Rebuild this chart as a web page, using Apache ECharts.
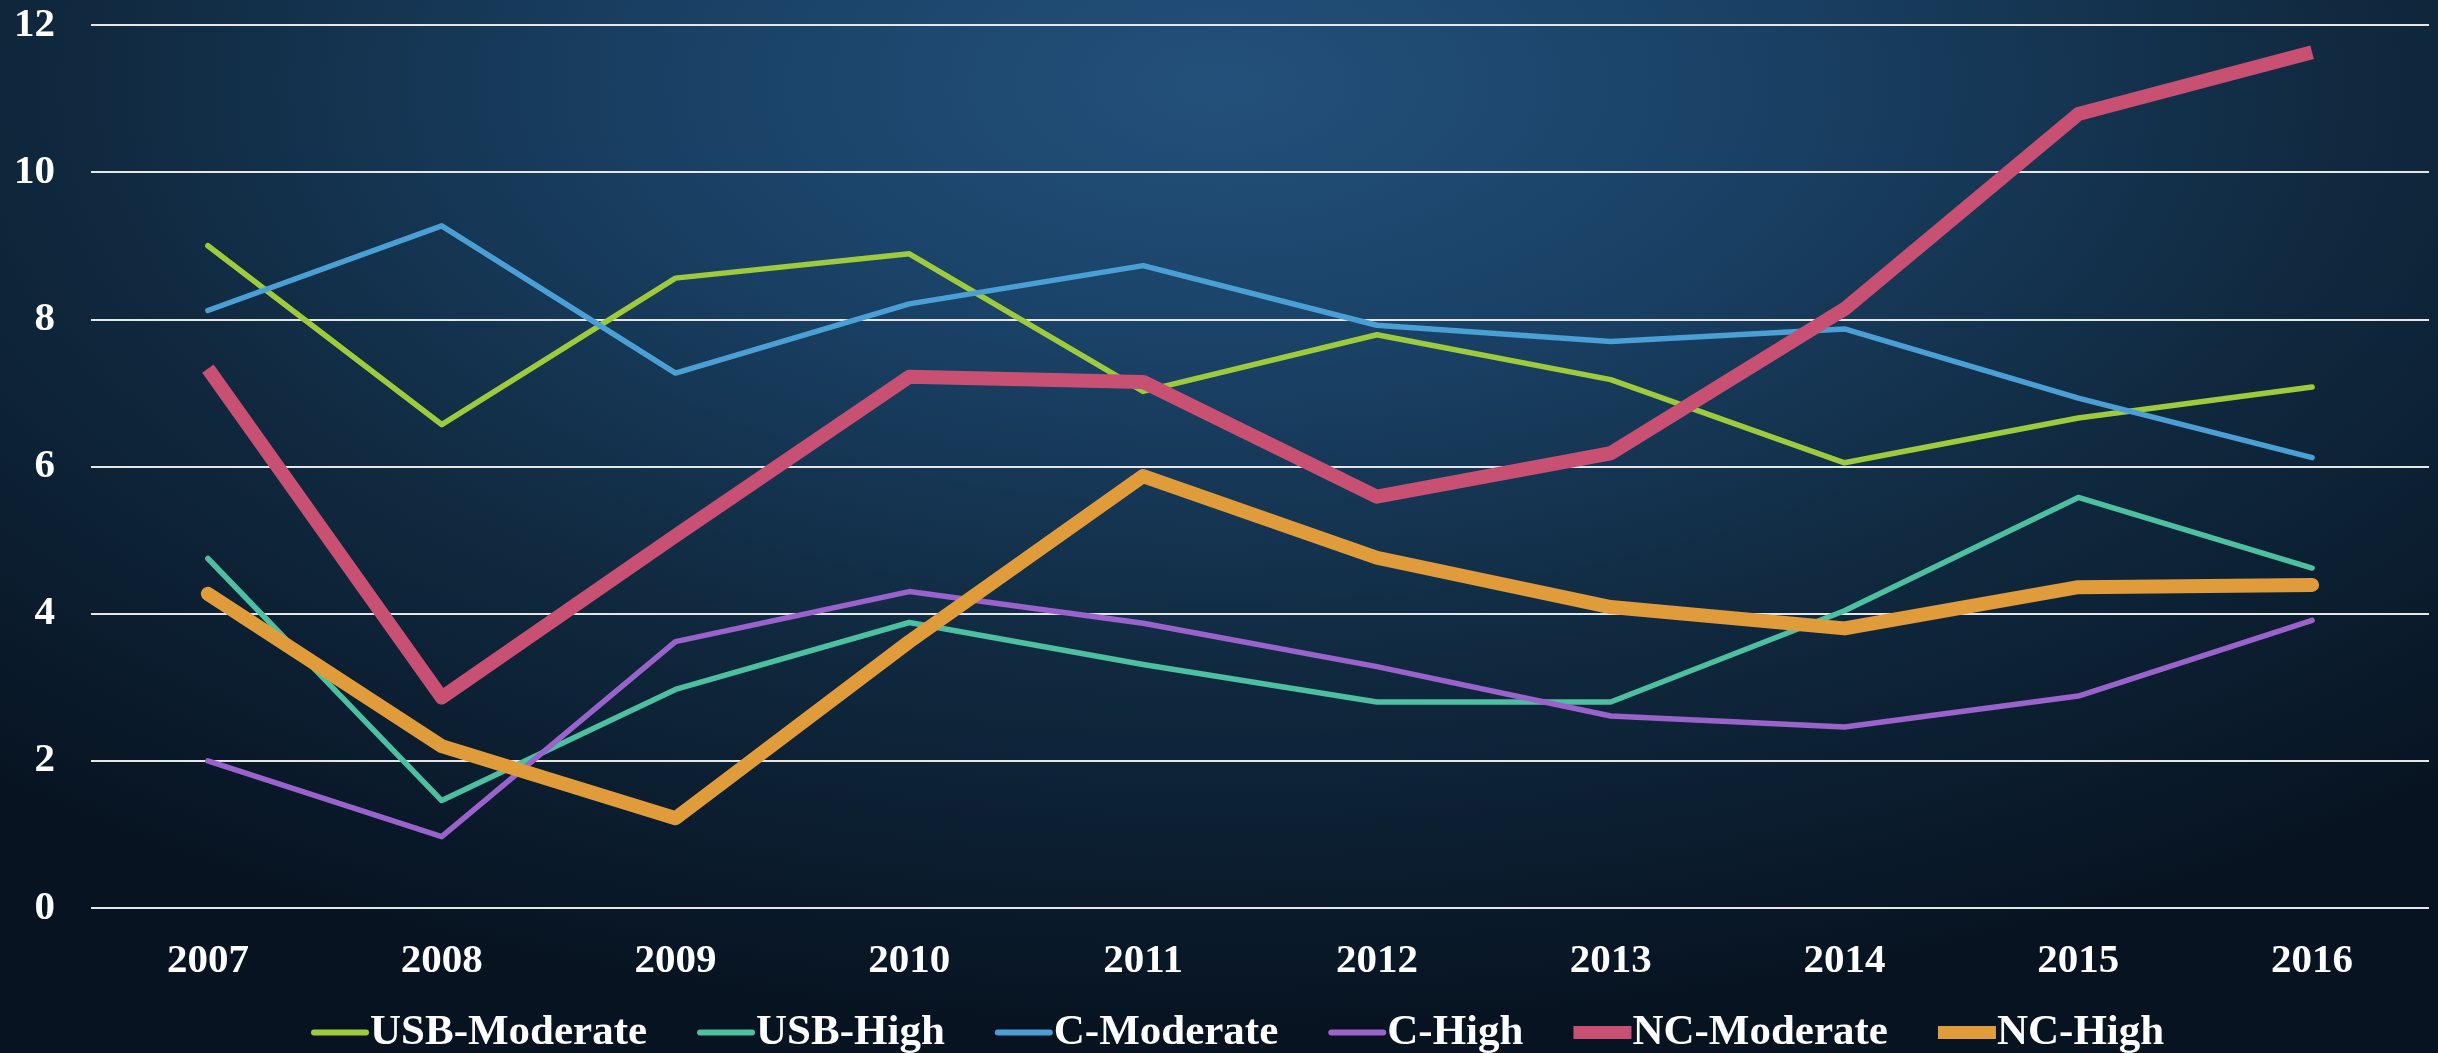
<!DOCTYPE html>
<html lang="en">

<head>
  <meta charset="UTF-8">
  <title>Trend chart</title>
  <script src="https://cdnjs.cloudflare.com/ajax/libs/echarts/6.0.0/echarts.min.js"></script>
  <style>
    html, body {
      margin: 0;
      padding: 0;
    }
    #main {
      width: 2438px;
      height: 1053px;
      background: radial-gradient(ellipse 75% 90% at 50% 8%, #23507a 0%, #1a4267 28%, #10293f 62%, #071321 100%);
    }
  </style>
</head>

<body>
  <div id="main"></div>
</body>
<script>
  // data
  var years = ['2007', '2008', '2009', '2010', '2011', '2012', '2013', '2014', '2015', '2016'];
  var seriesNames = ['USB-Moderate', 'USB-High', 'C-Moderate', 'C-High', 'NC-Moderate', 'NC-High'];
  var usbModerate = [9.0, 6.57, 8.56, 8.89, 7.02, 7.79, 7.18, 6.05, 6.66, 7.08];
  var usbHigh = [4.75, 1.46, 2.97, 3.88, 3.31, 2.80, 2.80, 4.04, 5.58, 4.62];
  var cModerate = [8.12, 9.27, 7.27, 8.21, 8.73, 7.92, 7.70, 7.87, 6.93, 6.12];
  var cHigh = [2.0, 0.97, 3.62, 4.30, 3.87, 3.28, 2.61, 2.46, 2.88, 3.91];
  var ncModerate = [7.33, 2.86, 5.06, 7.22, 7.15, 5.59, 6.18, 8.14, 10.79, 11.63];
  var ncHigh = [4.27, 2.20, 1.22, 3.62, 5.87, 4.76, 4.09, 3.80, 4.36, 4.39];

  var serif = '"Liberation Serif", "Times New Roman", serif';
  var myChart = echarts.init(document.getElementById('main'));

  // legend icons: the first two moves keep the box 58x20 so the bar keeps its own thickness
  var thinIcon = 'path://M0,0M58,20M3,7h52a3,3 0 0 1 0,6h-52a3,3 0 0 1 0,-6z';
  var thickIcon = 'path://M0,0M58,20M0,3.5h58v13h-58z';

  function mkLine(name, data, color, width, cap) {
    return {
      name: name,
      type: 'line',
      data: data,
      symbol: 'none',
      lineStyle: { color: color, width: width, cap: cap, join: 'round' },
      itemStyle: { color: color }
    };
  }

  var option = {
    backgroundColor: 'transparent',
    animation: false,
    grid: {
      left: 91,
      right: 9,
      top: 25,
      bottom: 145
    },
    legend: {
      left: 306,
      top: 1006,
      itemWidth: 58,
      itemHeight: 20,
      itemGap: 50,
      textStyle: {
        color: '#fff',
        fontFamily: serif,
        fontWeight: 'bold',
        fontSize: 43,
        padding: [0, 0, 0, -4]
      },
      data: seriesNames.map(function (n, i) {
        return { name: n, icon: i < 4 ? thinIcon : thickIcon };
      })
    },
    xAxis: {
      type: 'category',
      data: years,
      axisLine: { show: false },
      axisTick: { show: false },
      axisLabel: {
        color: '#fff',
        fontFamily: serif,
        fontWeight: 'bold',
        fontSize: 41,
        margin: 33
      }
    },
    yAxis: {
      type: 'value',
      min: 0,
      max: 12,
      interval: 2,
      axisLine: { show: false },
      axisTick: { show: false },
      axisLabel: {
        color: '#fff',
        fontFamily: serif,
        fontWeight: 'bold',
        fontSize: 41,
        margin: 36
      },
      splitLine: {
        lineStyle: { color: '#e6e6e6', width: 2 }
      }
    },
    series: [
      mkLine(seriesNames[0], usbModerate, '#9ecb3c', 5.5, 'round'),
      mkLine(seriesNames[1], usbHigh, '#4cc0a0', 5.5, 'round'),
      mkLine(seriesNames[2], cModerate, '#4a9fd5', 5.5, 'round'),
      mkLine(seriesNames[3], cHigh, '#9a62cb', 5.5, 'round'),
      mkLine(seriesNames[4], ncModerate, '#c85072', 14, 'butt'),
      mkLine(seriesNames[5], ncHigh, '#e09c3a', 14, 'round')
    ]
  };

  myChart.setOption(option);
</script>

</html>
